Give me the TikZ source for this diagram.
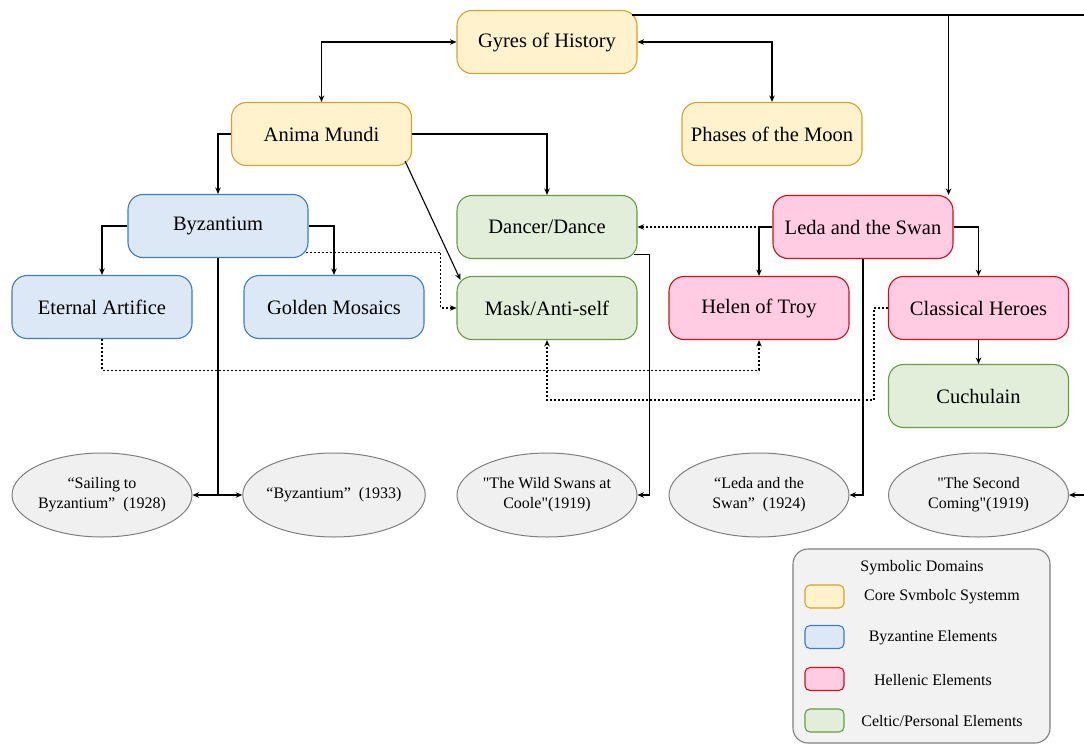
\documentclass[tikz,border=0pt]{standalone}
\usepackage{xcolor}
\usepackage{fontspec}
\setmainfont{Liberation Serif}[Ligatures=TeXOff]
\usepackage{tikz}
\usetikzlibrary{arrows.meta,shapes.geometric}
\tikzset{>={Stealth[length=6.5pt,width=5.5pt]}}
\definecolor{coreFill}{HTML}{FFF2CC}
\definecolor{coreLine}{HTML}{D4A52A}
\definecolor{byzFill}{HTML}{DDE8F6}
\definecolor{byzLine}{HTML}{3D7DC2}
\definecolor{helFill}{HTML}{FFCCE4}
\definecolor{helLine}{HTML}{D0101C}
\definecolor{celtFill}{HTML}{E2EED9}
\definecolor{celtLine}{HTML}{6A9A48}
\definecolor{poemFill}{HTML}{F0F0F0}
\definecolor{poemLine}{HTML}{7F7F7F}
\tikzset{
  box/.style={draw,rounded corners=15pt,line width=1.1pt,minimum width=180pt,minimum height=63pt,
    inner sep=2pt,font=\fontsize{20.5}{24}\selectfont},
  core/.style={box,fill=coreFill,draw=coreLine},
  byzant/.style={box,fill=byzFill,draw=byzLine},
  hellen/.style={box,fill=helFill,draw=helLine},
  celtic/.style={box,fill=celtFill,draw=celtLine},
  poem/.style={ellipse,draw=poemLine,fill=poemFill,line width=1pt,minimum width=180pt,minimum height=84pt,
    inner xsep=-3pt,inner ysep=1pt,align=center,font=\fontsize{16}{20}\selectfont},
  swatch/.style={draw,rounded corners=5pt,line width=1.1pt,minimum width=39pt,minimum height=23pt,inner sep=0pt},
  keytext/.style={font=\fontsize{16}{19}\selectfont},
  link/.style={->,line width=1.1pt},
  hint/.style={->,line width=1.1pt,dash pattern=on 2pt off 2pt}
}
\begin{document}
\begin{tikzpicture}[x=1pt,y=-1pt]
    \useasboundingbox[fill=white] (0,0) rectangle (1084,744);
    \node[core] (gyres) at (547,42) {Gyres of History};
    \node[core] (anima) at (321.5,134) {Anima Mundi};
    \node[core] (phases) at (772,134) {Phases of the Moon};
    \node[byzant] (byz) at (218,226) {Byzantium};
    \node[celtic] (dancer) at (547,227) {Dancer/Dance};
    \node[hellen] (leda) at (863,227) {Leda and the Swan};
    \node[byzant] (eternal) at (102,307) {Eternal Artifice};
    \node[byzant] (mosaics) at (334,307) {Golden Mosaics};
    \node[celtic] (mask) at (547,308) {Mask/Anti-self};
    \node[hellen] (helen) at (759,308) {Helen of Troy};
    \node[hellen] (heroes) at (978.5,308) {Classical Heroes};
    \node[celtic] (cuchulain) at (978.5,396) {Cuchulain};
    \node[poem] (sailing) at (102,495) {“Sailing to\\Byzantium”\enspace(1928)};
    \node[poem] (byzpoem) at (334,495) {“Byzantium”\enspace(1933)};
    \node[poem] (swans) at (547,495) {"The Wild Swans at\\Coole"(1919)};
    \node[poem] (ledapoem) at (759,495) {“Leda and the\\Swan”\enspace(1924)};
    \node[poem] (second) at (978.5,495) {"The Second\\Coming"(1919)};
    \coordinate (gyresOut) at (632,15);
    \coordinate (offRight) at (1100,15);
    \draw[link,<->] (gyres.west) -| (anima.north);
    \draw[link,<->] (gyres.east) -| (phases.north);
    \draw[link] (gyresOut) -| ([xshift=-5pt]leda.north east);
    \draw[link] (gyresOut) -- (offRight) |- (second.east);
    \draw[link] (anima.west) -| (byz.north);
    \draw[link] (anima.east) -| (dancer.north);
    \draw[link] ([shift={(-7,-5)}]anima.south east) -- ([shift={(4,4)}]mask.north west);
    \draw[link] (byz.west) -| (eternal.north);
    \draw[link] (byz.east) -| (mosaics.north);
    \draw[link] (byz.south) |- (sailing.east);
    \draw[link] (byz.south) |- (byzpoem.west);
    \draw[hint] ([shift={(-3,-6)}]byz.south east) -| ([xshift=-16pt]mask.west) -- (mask.west);
    \draw[hint] (eternal.south) -- ++(0,31) -| (helen.south);
    \draw[link] ([shift={(-4,-5)}]dancer.south east) -- ++(16,0) |- (swans.east);
    \draw[hint] (leda.west) -- (dancer.east);
    \draw[link] (leda.west) -| (helen.north);
    \draw[link] (leda.east) -| (heroes.north);
    \draw[link] (leda.south) |- (ledapoem.east);
    \draw[hint] (heroes.west) -- ++(-14,0) -- ++(0,92) -| (mask.south);
    \draw[link] (heroes.south) -- (cuchulain.north);
    \node[draw=poemLine,fill=poemFill!90!white,line width=1.1pt,rounded corners=15pt,
      minimum width=257pt,minimum height=194pt] (legend) at (921.5,646) {};
    \node[keytext] (keytitle) at (922,568) {Symbolic Domains};
    \node[swatch,fill=coreFill,draw=coreLine] (keycore) at (824.5,596.5) {};
    \node[swatch,fill=byzFill,draw=byzLine] (keybyz) at (824.5,637) {};
    \node[swatch,fill=helFill,draw=helLine] (keyhel) at (824.5,679) {};
    \node[swatch,fill=celtFill,draw=celtLine] (keycelt) at (824.5,720.5) {};
    \node[keytext] (corelabel) at (942,597) {Core Svmbolc Systemm};
    \node[keytext] (byzlabel) at (933,638) {Byzantine Elements};
    \node[keytext] (hellabel) at (933,680) {Hellenic Elements};
    \node[keytext] (celtlabel) at (942,721) {Celtic/Personal Elements};
  \end{tikzpicture}
\end{document}
